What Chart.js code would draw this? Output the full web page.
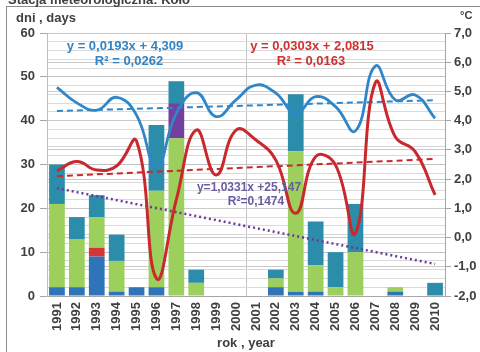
<!DOCTYPE html>
<html>
<head>
<meta charset="utf-8">
<script src="https://cdn.jsdelivr.net/npm/chart.js@4"></script>
<style>
  html, body { margin: 0; padding: 0; background: #fff; }
  canvas { display: block; }
</style>
</head>
<body>
<canvas id="chart" width="480" height="352"></canvas>
<script>
// categories
const years = ['1991','1992','1993','1994','1995','1996','1997','1998','1999','2000',
               '2001','2002','2003','2004','2005','2006','2007','2008','2009','2010'];

// days (left axis), stacked bottom -> top
const daysBlue   = [2, 2, 9, 1, 2, 2, 0, 0, 0, 0, 0, 2, 1, 1, 0, 0, 0, 1, 0, 0];
const daysRed    = [0, 0, 2, 0, 0, 0, 0, 0, 0, 0, 0, 0, 0, 0, 0, 0, 0, 0, 0, 0];
const daysGreen  = [19, 11, 7, 7, 0, 22, 36, 3, 0, 0, 0, 2, 32, 6, 2, 10, 0, 1, 0, 0];
const daysPurple = [0, 0, 0, 0, 0, 0, 8, 0, 0, 0, 0, 0, 0, 0, 0, 0, 0, 0, 0, 0];
const daysTeal   = [9, 5, 5, 6, 0, 15, 5, 3, 0, 0, 0, 2, 13, 10, 8, 11, 0, 0, 0, 3];

// temperatures (right axis, °C)
const tempBlue = [5.14, 4.61, 4.36, 4.80, 4.19, 2.42, 4.25, 4.96, 4.14, 4.71,
                  5.22, 4.94, 4.25, 4.82, 4.48, 3.65, 5.87, 4.71, 4.88, 4.08];
const tempRed  = [2.28, 2.60, 2.31, 2.45, 3.30, -1.40, 1.30, 3.68, 2.14, 3.68,
                  3.34, 2.65, 0.83, 2.77, 2.48, 0.15, 5.30, 3.45, 2.94, 1.46];

// trend lines, end points only
const trendBlue   = [4.33, null, null, null, null, null, null, null, null, null,
                     null, null, null, null, null, null, null, null, null, 4.70];
const trendRed    = [2.10, null, null, null, null, null, null, null, null, null,
                     null, null, null, null, null, null, null, null, null, 2.69];
const trendPurple = [24.6, null, null, null, null, null, null, null, null, null,
                     null, null, null, null, null, null, null, null, null, 7.3];

const leftTicks = [0, 10, 20, 30, 40, 50, 60];

const FONT = '"Liberation Sans", Arial, sans-serif';
const GREY = '#404040';

const textPlugin = {
    id: 'texts',
    beforeDatasetsDraw(chart) {
        const c = chart.ctx;
        c.save();
        c.textAlign = 'center';
        c.textBaseline = 'middle';
        c.font = 'bold 13px ' + FONT;
        c.fillStyle = '#3184c6';
        c.fillText('y = 0,0193x + 4,309', 125, 46);
        c.fillText('R² = 0,0262', 129, 61);
        c.fillStyle = '#cf3030';
        c.fillText('y = 0,0303x + 2,0815', 312, 46);
        c.fillText('R² = 0,0163', 311, 61);
        c.restore();
    },
    afterDatasetsDraw(chart) {
        const c = chart.ctx;
        c.save();
        c.textAlign = 'center';
        c.textBaseline = 'middle';
        c.font = 'bold 12px ' + FONT;
        c.fillStyle = '#6b5b9f';
        c.fillText('y=1,0331x +25,147', 249, 188);
        c.fillText('R²=0,1474', 256, 202);
        c.restore();
    },
    afterDraw(chart) {
        const c = chart.ctx;
        c.save();
        // outer frame
        c.strokeStyle = '#8c8c8c';
        c.lineWidth = 1;
        c.strokeRect(6.5, 6.5, 500, 400);
        c.fillStyle = GREY;
        c.font = 'bold 13px ' + FONT;
        c.textBaseline = 'alphabetic';
        c.textAlign = 'left';
        c.fillText('Stacja meteorologiczna: Koło', 8, 4);
        c.textBaseline = 'middle';
        c.fillText('dni , days', 16, 18);
        c.font = 'bold 11px ' + FONT;
        c.fillText('°C', 460, 16);
        c.restore();
    }
};

function barSet(label, data, color) {
    return {
        type: 'bar',
        label: label,
        data: data,
        backgroundColor: color,
        borderWidth: 0,
        barPercentage: 1,
        categoryPercentage: 0.79,
        yAxisID: 'y',
        stack: 'days',
        order: 10
    };
}

new Chart(document.getElementById('chart'), {
    data: {
        labels: years,
        datasets: [
            barSet('blue', daysBlue, '#2e74b8'),
            barSet('red', daysRed, '#d43535'),
            barSet('green', daysGreen, '#9ccf5c'),
            barSet('purple', daysPurple, '#7440a0'),
            barSet('teal', daysTeal, '#2b8daa'),
            {
                type: 'line',
                label: 'temp blue',
                data: tempBlue,
                borderColor: '#2f86c8',
                borderWidth: 2.8,
                pointRadius: 0,
                tension: 0.45,
                yAxisID: 'y1',
                order: 1
            },
            {
                type: 'line',
                label: 'temp red',
                data: tempRed,
                borderColor: '#c9282d',
                borderWidth: 3,
                pointRadius: 0,
                tension: 0.45,
                yAxisID: 'y1',
                order: 0
            },
            {
                type: 'line',
                label: 'trend blue',
                data: trendBlue,
                borderColor: '#2f86c8',
                borderWidth: 2,
                borderDash: [6, 4],
                pointRadius: 0,
                spanGaps: true,
                yAxisID: 'y1',
                order: 2
            },
            {
                type: 'line',
                label: 'trend red',
                data: trendRed,
                borderColor: '#c9282d',
                borderWidth: 2,
                borderDash: [6, 4],
                pointRadius: 0,
                spanGaps: true,
                yAxisID: 'y1',
                order: 2
            },
            {
                type: 'line',
                label: 'trend days',
                data: trendPurple,
                borderColor: '#6a3a98',
                borderWidth: 2.5,
                borderDash: [2, 3],
                pointRadius: 0,
                spanGaps: true,
                yAxisID: 'y',
                stack: 'trend',
                order: 3
            }
        ]
    },
    options: {
        responsive: false,
        animation: false,
        layout: { padding: { top: 33, left: 0, right: 0, bottom: 0 } },
        plugins: {
            legend: { display: false },
            tooltip: { enabled: false }
        },
        scales: {
            x: {
                stacked: true,
                afterFit: (s) => { s.height = 56; },
                grid: {
                    offset: true,
                    drawTicks: false,
                    color: (ctx) => ctx.index === 10 ? '#c4c4c4' : 'rgba(0,0,0,0)'
                },
                border: { color: '#a6a6a6' },
                ticks: {
                    minRotation: 90,
                    maxRotation: 90,
                    autoSkip: false,
                    padding: 6,
                    color: GREY,
                    font: { family: FONT, size: 13, weight: 'bold' }
                },
                title: {
                    display: true,
                    text: 'rok , year',
                    color: GREY,
                    padding: { top: 0, bottom: 1 },
                    font: { family: FONT, size: 13, weight: 'bold' }
                }
            },
            y: {
                stacked: true,
                position: 'left',
                min: 0,
                max: 60,
                afterFit: (s) => { s.width = 47; },
                ticks: {
                    stepSize: 2,
                    autoSkip: false,
                    padding: 5,
                    color: GREY,
                    font: { family: FONT, size: 13, weight: 'bold' },
                    callback: (v) => leftTicks.includes(v) ? v : ''
                },
                grid: {
                    tickLength: 7,
                    color: (ctx) => ctx.tick && leftTicks.includes(ctx.tick.value) ? '#c2c2c2' : '#dadada',
                    tickColor: (ctx) => ctx.tick && leftTicks.includes(ctx.tick.value) ? '#a6a6a6' : 'rgba(0,0,0,0)'
                },
                border: { color: '#bdbdbd' }
            },
            y1: {
                position: 'right',
                min: -2,
                max: 7,
                afterFit: (s) => { s.width = 35; },
                ticks: {
                    stepSize: 1,
                    padding: 3,
                    color: GREY,
                    font: { family: FONT, size: 13, weight: 'bold' },
                    callback: (v) => v.toFixed(1).replace('.', ',')
                },
                grid: {
                    tickLength: 6,
                    color: '#cacaca',
                    tickColor: '#a6a6a6'
                },
                border: { color: '#a6a6a6' }
            }
        }
    },
    plugins: [textPlugin]
});
</script>
</body>
</html>
